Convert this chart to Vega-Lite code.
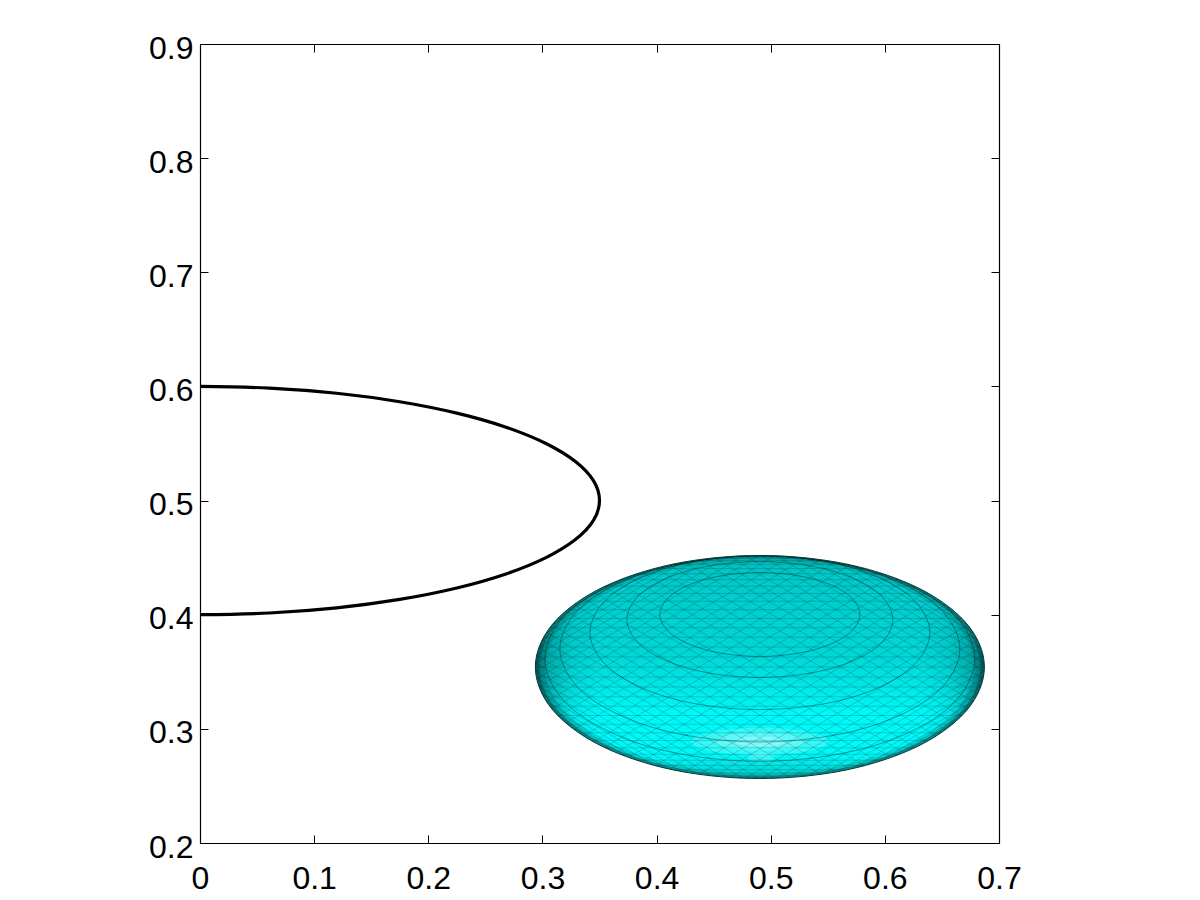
{
"$schema":"https://vega.github.io/schema/vega-lite/v6.json",
"width":799,"height":799,"autosize":"none","padding":{"left":200,"top":44,"right":201,"bottom":57},"background":"white",
"config":{"view":{"stroke":null},"axis":{"grid":false,"title":null,"domainColor":"black","tickColor":"black","labelColor":"black","labelFont":"Liberation Sans","labelFontSize":32,"domainWidth":1.2,"tickWidth":1,"labelOverlap":false,"labelFlush":false}},
"datasets":{
"curve":[{"x":0,"y":0.6},{"x":0.0608,"y":0.5985},{"x":0.1197,"y":0.594},{"x":0.175,"y":0.5866},{"x":0.225,"y":0.5766},{"x":0.2681,"y":0.5643},{"x":0.3031,"y":0.55},{"x":0.3289,"y":0.5342},{"x":0.3447,"y":0.5174},{"x":0.35,"y":0.5},{"x":0.3447,"y":0.4826},{"x":0.3289,"y":0.4658},{"x":0.3031,"y":0.45},{"x":0.2681,"y":0.4357},{"x":0.225,"y":0.4234},{"x":0.175,"y":0.4134},{"x":0.1197,"y":0.406},{"x":0.0608,"y":0.4015},{"x":0,"y":0.4}],
"e0":[{"x":0.6872,"y":0.3542},{"x":0.6722,"y":0.3916},{"x":0.6296,"y":0.4233},{"x":0.5658,"y":0.4445},{"x":0.4905,"y":0.4519},{"x":0.4152,"y":0.4445},{"x":0.3514,"y":0.4233},{"x":0.3088,"y":0.3916},{"x":0.2938,"y":0.3542},{"x":0.3088,"y":0.3168},{"x":0.3514,"y":0.2851},{"x":0.4152,"y":0.2639},{"x":0.4905,"y":0.2565},{"x":0.5658,"y":0.2639},{"x":0.6296,"y":0.2851},{"x":0.6722,"y":0.3168}],
"e1":[{"x":0.6837,"y":0.3542},{"x":0.669,"y":0.3907},{"x":0.6271,"y":0.4217},{"x":0.5644,"y":0.4424},{"x":0.4905,"y":0.4497},{"x":0.4166,"y":0.4424},{"x":0.3539,"y":0.4217},{"x":0.312,"y":0.3907},{"x":0.2973,"y":0.3542},{"x":0.312,"y":0.3177},{"x":0.3539,"y":0.2867},{"x":0.4166,"y":0.266},{"x":0.4905,"y":0.2587},{"x":0.5644,"y":0.266},{"x":0.6271,"y":0.2867},{"x":0.669,"y":0.3177}],
"e2":[{"x":0.6784,"y":0.3542},{"x":0.6641,"y":0.3899},{"x":0.6234,"y":0.4202},{"x":0.5624,"y":0.4404},{"x":0.4905,"y":0.4475},{"x":0.4186,"y":0.4404},{"x":0.3576,"y":0.4202},{"x":0.3169,"y":0.3899},{"x":0.3026,"y":0.3542},{"x":0.3169,"y":0.3185},{"x":0.3576,"y":0.2882},{"x":0.4186,"y":0.268},{"x":0.4905,"y":0.2609},{"x":0.5624,"y":0.268},{"x":0.6234,"y":0.2882},{"x":0.6641,"y":0.3185}],
"glow":[
{"g":"a","x":0.5505,"y":0.2889},{"g":"a","x":0.5329,"y":0.2974},{"g":"a","x":0.4905,"y":0.3009},{"g":"a","x":0.4481,"y":0.2974},{"g":"a","x":0.4305,"y":0.2889},{"g":"a","x":0.4481,"y":0.2804},{"g":"a","x":0.4905,"y":0.2769},{"g":"a","x":0.5329,"y":0.2804},
{"g":"b","x":0.53,"y":0.2889},{"g":"b","x":0.5184,"y":0.2945},{"g":"b","x":0.4905,"y":0.2968},{"g":"b","x":0.4626,"y":0.2945},{"g":"b","x":0.451,"y":0.2889},{"g":"b","x":0.4626,"y":0.2833},{"g":"b","x":0.4905,"y":0.281},{"g":"b","x":0.5184,"y":0.2833},
{"g":"c","x":0.5125,"y":0.2889},{"g":"c","x":0.5061,"y":0.2921},{"g":"c","x":0.4905,"y":0.2934},{"g":"c","x":0.4749,"y":0.2921},{"g":"c","x":0.4685,"y":0.2889},{"g":"c","x":0.4749,"y":0.2857},{"g":"c","x":0.4905,"y":0.2844},{"g":"c","x":0.5061,"y":0.2857},
{"g":"d","x":0.504,"y":0.275},{"g":"d","x":0.5005,"y":0.2778},{"g":"d","x":0.492,"y":0.279},{"g":"d","x":0.4835,"y":0.2778},{"g":"d","x":0.48,"y":0.275},{"g":"d","x":0.4835,"y":0.2722},{"g":"d","x":0.492,"y":0.271},{"g":"d","x":0.5005,"y":0.2722}],
"rings":[
{"r":1,"x":0.5781,"y":0.4002},{"r":1,"x":0.5664,"y":0.4186},{"r":1,"x":0.5343,"y":0.4321},{"r":1,"x":0.4905,"y":0.437},{"r":1,"x":0.4467,"y":0.4321},{"r":1,"x":0.4146,"y":0.4186},{"r":1,"x":0.4029,"y":0.4002},{"r":1,"x":0.4146,"y":0.3818},{"r":1,"x":0.4467,"y":0.3683},{"r":1,"x":0.4905,"y":0.3634},{"r":1,"x":0.5343,"y":0.3683},{"r":1,"x":0.5664,"y":0.3818},
{"r":2,"x":0.607,"y":0.3958},{"r":2,"x":0.5914,"y":0.4212},{"r":2,"x":0.5488,"y":0.4398},{"r":2,"x":0.4905,"y":0.4466},{"r":2,"x":0.4322,"y":0.4398},{"r":2,"x":0.3896,"y":0.4212},{"r":2,"x":0.374,"y":0.3958},{"r":2,"x":0.3896,"y":0.3704},{"r":2,"x":0.4322,"y":0.3518},{"r":2,"x":0.4905,"y":0.345},{"r":2,"x":0.5488,"y":0.3518},{"r":2,"x":0.5914,"y":0.3704},
{"r":3,"x":0.6394,"y":0.3844},{"r":3,"x":0.6194,"y":0.4182},{"r":3,"x":0.565,"y":0.4429},{"r":3,"x":0.4905,"y":0.4519},{"r":3,"x":0.416,"y":0.4429},{"r":3,"x":0.3616,"y":0.4182},{"r":3,"x":0.3416,"y":0.3844},{"r":3,"x":0.3616,"y":0.3506},{"r":3,"x":0.416,"y":0.3259},{"r":3,"x":0.4905,"y":0.3169},{"r":3,"x":0.565,"y":0.3259},{"r":3,"x":0.6194,"y":0.3506},
{"r":4,"x":0.6657,"y":0.37},{"r":4,"x":0.6422,"y":0.4108},{"r":4,"x":0.5781,"y":0.4406},{"r":4,"x":0.4905,"y":0.4515},{"r":4,"x":0.4029,"y":0.4406},{"r":4,"x":0.3388,"y":0.4108},{"r":4,"x":0.3153,"y":0.37},{"r":4,"x":0.3388,"y":0.3292},{"r":4,"x":0.4029,"y":0.2994},{"r":4,"x":0.4905,"y":0.2885},{"r":4,"x":0.5781,"y":0.2994},{"r":4,"x":0.6422,"y":0.3292},
{"r":5,"x":0.6788,"y":0.3615},{"r":5,"x":0.6536,"y":0.4065},{"r":5,"x":0.5847,"y":0.4394},{"r":5,"x":0.4905,"y":0.4515},{"r":5,"x":0.3963,"y":0.4394},{"r":5,"x":0.3274,"y":0.4065},{"r":5,"x":0.3022,"y":0.3615},{"r":5,"x":0.3274,"y":0.3165},{"r":5,"x":0.3963,"y":0.2836},{"r":5,"x":0.4905,"y":0.2715},{"r":5,"x":0.5847,"y":0.2836},{"r":5,"x":0.6536,"y":0.3165}],
"meshH":[{"y":0.3542,"x":0.2938,"x2":0.6872},{"y":0.363,"x":0.2946,"x2":0.6864},{"y":0.3454,"x":0.2946,"x2":0.6864},{"y":0.3717,"x":0.297,"x2":0.684},{"y":0.3367,"x":0.297,"x2":0.684},{"y":0.3803,"x":0.3009,"x2":0.6801},{"y":0.3281,"x":0.3009,"x2":0.6801},{"y":0.3886,"x":0.3064,"x2":0.6746},{"y":0.3198,"x":0.3064,"x2":0.6746},{"y":0.3967,"x":0.3134,"x2":0.6676},{"y":0.3117,"x":0.3134,"x2":0.6676},{"y":0.4044,"x":0.3218,"x2":0.6592},{"y":0.304,"x":0.3218,"x2":0.6592},{"y":0.4118,"x":0.3316,"x2":0.6494},{"y":0.2966,"x":0.3316,"x2":0.6494},{"y":0.4186,"x":0.3426,"x2":0.6384},{"y":0.2898,"x":0.3426,"x2":0.6384},{"y":0.425,"x":0.3549,"x2":0.6261},{"y":0.2834,"x":0.3549,"x2":0.6261},{"y":0.4307,"x":0.3682,"x2":0.6128},{"y":0.2777,"x":0.3682,"x2":0.6128},{"y":0.4359,"x":0.3826,"x2":0.5984},{"y":0.2725,"x":0.3826,"x2":0.5984},{"y":0.4404,"x":0.3978,"x2":0.5832},{"y":0.268,"x":0.3978,"x2":0.5832},{"y":0.4442,"x":0.4137,"x2":0.5673},{"y":0.2642,"x":0.4137,"x2":0.5673},{"y":0.4472,"x":0.4303,"x2":0.5507},{"y":0.2612,"x":0.4303,"x2":0.5507},{"y":0.4495,"x":0.4474,"x2":0.5336},{"y":0.2589,"x":0.4474,"x2":0.5336},{"y":0.4511,"x":0.4649,"x2":0.5161},{"y":0.2573,"x":0.4649,"x2":0.5161}],
"meshD":[
{"x":0.3646,"y":0.2792,"x2":0.6164,"y2":0.4292},{"x":0.3543,"y":0.2838,"x2":0.6055,"y2":0.4334},{"x":0.3447,"y":0.2886,"x2":0.5941,"y2":0.4372},{"x":0.3359,"y":0.2938,"x2":0.5821,"y2":0.4406},{"x":0.3277,"y":0.2994,"x2":0.5697,"y2":0.4436},{"x":0.3204,"y":0.3051,"x2":0.557,"y2":0.4461},{"x":0.3139,"y":0.3112,"x2":0.5439,"y2":0.4482},{"x":0.3083,"y":0.3174,"x2":0.5305,"y2":0.4498},{"x":0.3035,"y":0.3239,"x2":0.5169,"y2":0.4509},{"x":0.2998,"y":0.3304,"x2":0.5032,"y2":0.4516},{"x":0.2969,"y":0.3371,"x2":0.4895,"y2":0.4519},{"x":0.2949,"y":0.3439,"x2":0.4757,"y2":0.4515},{"x":0.294,"y":0.3506,"x2":0.462,"y2":0.4508},{"x":0.2939,"y":0.3575,"x2":0.4485,"y2":0.4495},{"x":0.2949,"y":0.3643,"x2":0.4351,"y2":0.4479},{"x":0.2968,"y":0.3711,"x2":0.422,"y2":0.4457},{"x":0.2996,"y":0.3778,"x2":0.4094,"y2":0.4432},{"x":0.3034,"y":0.3843,"x2":0.397,"y2":0.4401},{"x":0.3081,"y":0.3908,"x2":0.3851,"y2":0.4366},{"x":0.3138,"y":0.397,"x2":0.3738,"y2":0.4328},{"x":0.3202,"y":0.403,"x2":0.363,"y2":0.4286},
{"x":0.3755,"y":0.275,"x2":0.6267,"y2":0.4246},{"x":0.3869,"y":0.2712,"x2":0.6363,"y2":0.4198},{"x":0.3989,"y":0.2678,"x2":0.6451,"y2":0.4146},{"x":0.4113,"y":0.2648,"x2":0.6533,"y2":0.409},{"x":0.424,"y":0.2623,"x2":0.6606,"y2":0.4033},{"x":0.4371,"y":0.2602,"x2":0.6671,"y2":0.3972},{"x":0.4505,"y":0.2586,"x2":0.6727,"y2":0.391},{"x":0.4641,"y":0.2575,"x2":0.6775,"y2":0.3845},{"x":0.4778,"y":0.2568,"x2":0.6812,"y2":0.378},{"x":0.4915,"y":0.2565,"x2":0.6841,"y2":0.3713},{"x":0.5053,"y":0.2569,"x2":0.6861,"y2":0.3645},{"x":0.519,"y":0.2576,"x2":0.687,"y2":0.3578},{"x":0.5325,"y":0.2589,"x2":0.6871,"y2":0.3509},{"x":0.5459,"y":0.2605,"x2":0.6861,"y2":0.3441},{"x":0.559,"y":0.2627,"x2":0.6842,"y2":0.3373},{"x":0.5716,"y":0.2652,"x2":0.6814,"y2":0.3306},{"x":0.584,"y":0.2683,"x2":0.6776,"y2":0.3241},{"x":0.5959,"y":0.2718,"x2":0.6729,"y2":0.3176},{"x":0.6072,"y":0.2756,"x2":0.6672,"y2":0.3114},{"x":0.618,"y":0.2798,"x2":0.6608,"y2":0.3054},
{"x":0.6164,"y":0.2792,"x2":0.3646,"y2":0.4292},{"x":0.6267,"y":0.2838,"x2":0.3755,"y2":0.4334},{"x":0.6363,"y":0.2886,"x2":0.3869,"y2":0.4372},{"x":0.6451,"y":0.2938,"x2":0.3989,"y2":0.4406},{"x":0.6533,"y":0.2994,"x2":0.4113,"y2":0.4436},{"x":0.6606,"y":0.3051,"x2":0.424,"y2":0.4461},{"x":0.6671,"y":0.3112,"x2":0.4371,"y2":0.4482},{"x":0.6727,"y":0.3174,"x2":0.4505,"y2":0.4498},{"x":0.6775,"y":0.3239,"x2":0.4641,"y2":0.4509},{"x":0.6812,"y":0.3304,"x2":0.4778,"y2":0.4516},{"x":0.6841,"y":0.3371,"x2":0.4915,"y2":0.4519},{"x":0.6861,"y":0.3439,"x2":0.5053,"y2":0.4515},{"x":0.687,"y":0.3506,"x2":0.519,"y2":0.4508},{"x":0.6871,"y":0.3575,"x2":0.5325,"y2":0.4495},{"x":0.6861,"y":0.3643,"x2":0.5459,"y2":0.4479},{"x":0.6842,"y":0.3711,"x2":0.559,"y2":0.4457},{"x":0.6814,"y":0.3778,"x2":0.5716,"y2":0.4432},{"x":0.6776,"y":0.3843,"x2":0.584,"y2":0.4401},{"x":0.6729,"y":0.3908,"x2":0.5959,"y2":0.4366},{"x":0.6672,"y":0.397,"x2":0.6072,"y2":0.4328},{"x":0.6608,"y":0.403,"x2":0.618,"y2":0.4286},
{"x":0.6055,"y":0.275,"x2":0.3543,"y2":0.4246},{"x":0.5941,"y":0.2712,"x2":0.3447,"y2":0.4198},{"x":0.5821,"y":0.2678,"x2":0.3359,"y2":0.4146},{"x":0.5697,"y":0.2648,"x2":0.3277,"y2":0.409},{"x":0.557,"y":0.2623,"x2":0.3204,"y2":0.4033},{"x":0.5439,"y":0.2602,"x2":0.3139,"y2":0.3972},{"x":0.5305,"y":0.2586,"x2":0.3083,"y2":0.391},{"x":0.5169,"y":0.2575,"x2":0.3035,"y2":0.3845},{"x":0.5032,"y":0.2568,"x2":0.2998,"y2":0.378},{"x":0.4895,"y":0.2565,"x2":0.2969,"y2":0.3713},{"x":0.4757,"y":0.2569,"x2":0.2949,"y2":0.3645},{"x":0.462,"y":0.2576,"x2":0.294,"y2":0.3578},{"x":0.4485,"y":0.2589,"x2":0.2939,"y2":0.3509},{"x":0.4351,"y":0.2605,"x2":0.2949,"y2":0.3441},{"x":0.422,"y":0.2627,"x2":0.2968,"y2":0.3373},{"x":0.4094,"y":0.2652,"x2":0.2996,"y2":0.3306},{"x":0.397,"y":0.2683,"x2":0.3034,"y2":0.3241},{"x":0.3851,"y":0.2718,"x2":0.3081,"y2":0.3176},{"x":0.3738,"y":0.2756,"x2":0.3138,"y2":0.3114},{"x":0.363,"y":0.2798,"x2":0.3202,"y2":0.3054}]
},
"encoding":{
"x":{"field":"x","type":"quantitative","scale":{"domain":[0,0.7],"nice":false,"zero":false},"axis":null},
"y":{"field":"y","type":"quantitative","scale":{"domain":[0.2,0.9],"nice":false,"zero":false},"axis":null}
},
"resolve":{"axis":{"x":"independent","y":"independent"}},
"layer":[
{"data":{"name":"e0"},"mark":{"type":"line","interpolate":"cardinal-closed","fill":"#0a8c8c","strokeWidth":0},
"encoding":{
"order":{"value":null},
"x":{"field":"x","type":"quantitative","scale":{"domain":[0,0.7],"nice":false,"zero":false},"axis":{"orient":"bottom","values":[0,0.1,0.2,0.3,0.4,0.5,0.6,0.7],"format":".1~f","tickSize":-8,"labelPadding":28}},
"y":{"field":"y","type":"quantitative","scale":{"domain":[0.2,0.9],"nice":false,"zero":false},"axis":{"orient":"left","values":[0.2,0.3,0.4,0.5,0.6,0.7,0.8,0.9],"format":".1f","tickSize":-8,"labelPadding":15,"labelOffset":4}}}},
{"data":{"name":"e1"},"mark":{"type":"line","interpolate":"cardinal-closed","strokeWidth":0,"fillOpacity":0.6,"fill":{"gradient":"linear","x1":0,"y1":0,"x2":0,"y2":1,"stops":[{"offset":0,"color":"#00c0c0"},{"offset":0.06,"color":"#00cccc"},{"offset":0.2,"color":"#00d2d2"},{"offset":0.45,"color":"#00dcdc"},{"offset":0.6,"color":"#00eeee"},{"offset":0.72,"color":"#00ffff"},{"offset":0.92,"color":"#00ffff"},{"offset":1,"color":"#00d8d8"}]}},"encoding":{"order":{"value":null}}},
{"data":{"name":"e2"},"mark":{"type":"line","interpolate":"cardinal-closed","strokeWidth":0,"fillOpacity":0.85,"fill":{"gradient":"linear","x1":0,"y1":0,"x2":0,"y2":1,"stops":[{"offset":0,"color":"#00c0c0"},{"offset":0.06,"color":"#00cccc"},{"offset":0.2,"color":"#00d2d2"},{"offset":0.45,"color":"#00dcdc"},{"offset":0.6,"color":"#00eeee"},{"offset":0.72,"color":"#00ffff"},{"offset":0.92,"color":"#00ffff"},{"offset":1,"color":"#00d8d8"}]}},"encoding":{"order":{"value":null}}},
{"data":{"name":"e0"},"mark":{"type":"line","interpolate":"cardinal-closed","strokeWidth":0,"fill":{"gradient":"linear","x1":0,"y1":0,"x2":1,"y2":0,"stops":[{"offset":0,"color":"rgba(0,50,50,0.6)"},{"offset":0.025,"color":"rgba(0,50,50,0.3)"},{"offset":0.08,"color":"rgba(0,50,50,0.08)"},{"offset":0.14,"color":"rgba(0,50,50,0)"},{"offset":0.86,"color":"rgba(0,50,50,0)"},{"offset":0.92,"color":"rgba(0,50,50,0.08)"},{"offset":0.975,"color":"rgba(0,50,50,0.3)"},{"offset":1,"color":"rgba(0,50,50,0.6)"}]}},"encoding":{"order":{"value":null}}},
{"data":{"name":"glow"},"mark":{"type":"line","interpolate":"cardinal-closed","fill":"white","fillOpacity":0.2,"strokeWidth":0},"encoding":{"order":{"value":null},"detail":{"field":"g"}}},
{"data":{"name":"meshH"},"mark":{"type":"rule","color":"black","strokeWidth":0.7,"opacity":0.24},"encoding":{"x2":{"field":"x2"}}},
{"data":{"name":"meshD"},"mark":{"type":"rule","color":"black","strokeWidth":0.7,"opacity":0.24},"encoding":{"x2":{"field":"x2"},"y2":{"field":"y2"}}},
{"data":{"name":"rings"},"mark":{"type":"line","interpolate":"cardinal-closed","color":"black","strokeWidth":0.8,"opacity":0.45},"encoding":{"order":{"value":null},"detail":{"field":"r"}}},
{"data":{"name":"e0"},"mark":{"type":"line","interpolate":"cardinal-closed","color":"#073c3c","strokeWidth":1},"encoding":{"order":{"value":null}}},
{"data":{"name":"curve"},"mark":{"type":"line","interpolate":"cardinal","color":"black","strokeWidth":3.2},
"encoding":{
"order":{"value":null},
"x":{"field":"x","type":"quantitative","scale":{"domain":[0,0.7],"nice":false,"zero":false},"axis":{"orient":"top","values":[0,0.1,0.2,0.3,0.4,0.5,0.6,0.7],"labels":false,"tickSize":-8}},
"y":{"field":"y","type":"quantitative","scale":{"domain":[0.2,0.9],"nice":false,"zero":false},"axis":{"orient":"right","values":[0.2,0.3,0.4,0.5,0.6,0.7,0.8,0.9],"labels":false,"tickSize":-8}}}}
]
}
